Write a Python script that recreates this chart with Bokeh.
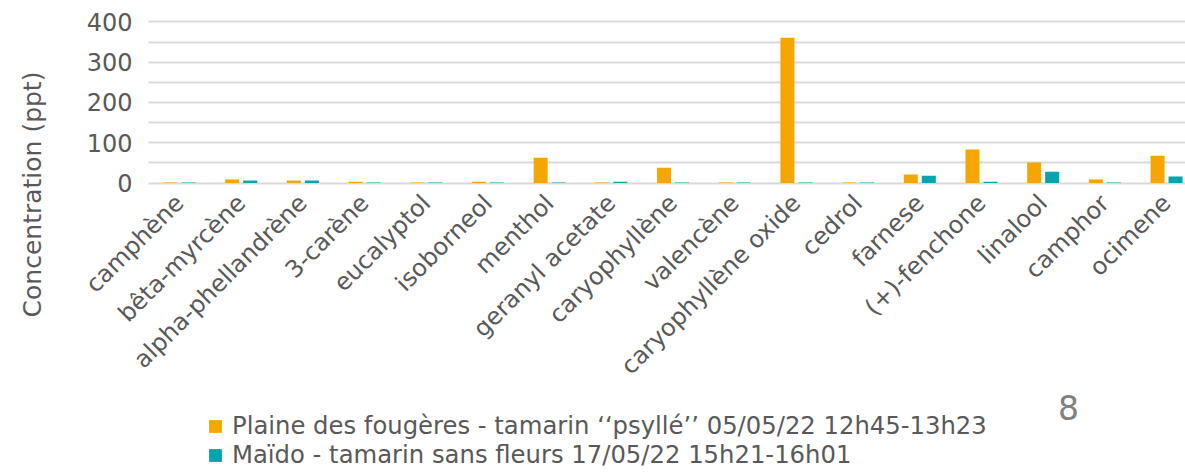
import math
from bokeh.plotting import figure
from bokeh.models import (ColumnDataSource, Range1d, FixedTicker, Legend, LegendItem, Label, Grid)
from bokeh.transform import dodge
from bokeh.embed import file_html
from bokeh.resources import INLINE

categories = ["camphène", "bêta-myrcène", "alpha-phellandrène", "3-carène", "eucalyptol",
              "isoborneol", "menthol", "geranyl acetate", "caryophyllène", "valencène",
              "caryophyllène oxide", "cedrol", "farnese", "(+)-fenchone", "linalool",
              "camphor", "ocimene"]
plaine = [1, 9, 6, 3, 1, 3, 63, 1, 38, 1, 361, 1, 21, 83, 51, 9, 68]
maido = [1, 6, 6, 1, 1, 1, 1, 3, 1, 1, 1, 1, 18, 3, 28, 1, 16]
series_names = ["Plaine des fougères - tamarin ‘‘psyllé’’ 05/05/22 12h45-13h23",
                "Maïdo - tamarin sans fleurs 17/05/22 15h21-16h01"]
y_ticks = [0, 100, 200, 300, 400]
y_minor = [50, 150, 250, 350]

FONT = "DejaVu Sans"
TXT = "#595959"
GRID = "#D9D9D9"
ORANGE = "#F5A600"
TEAL = "#00A5AD"

W, H = 1185, 473
# The plot frame covers the whole canvas; axes sit at fixed data locations inside it.
X0, X1 = -2.9016, 16.307      # data x at canvas left / right edge
Y0, Y1 = -721.7, 453.4        # data y at canvas bottom / top edge
X_LEFT = -0.502               # left edge of the bar area

src = ColumnDataSource(dict(x=list(range(len(categories))), plaine=plaine, maido=maido))

p = figure(width=W, height=H, output_backend="svg", toolbar_location=None,
           x_range=Range1d(X0, X1), y_range=Range1d(Y0, Y1),
           min_border=0, min_border_left=0, min_border_right=0,
           min_border_top=0, min_border_bottom=0)
p.outline_line_color = None

r1 = p.vbar(x=dodge("x", -0.146, range=p.x_range), top="plaine", width=0.227, bottom=0,
            source=src, fill_color=ORANGE, line_color=None)
r2 = p.vbar(x=dodge("x", 0.146, range=p.x_range), top="maido", width=0.227, bottom=0,
            source=src, fill_color=TEAL, line_color=None)

# x axis at y = 0
xa = p.xaxis[0]
xa.fixed_location = 0
xa.ticker = FixedTicker(ticks=list(range(len(categories))))
xa.major_label_overrides = {i: c for i, c in enumerate(categories)}
xa.major_label_orientation = math.pi / 4
xa.major_label_text_font = FONT
xa.major_label_text_font_size = "24px"
xa.major_label_text_color = TXT
xa.major_label_standoff = 10
xa.axis_line_color = None
xa.major_tick_line_color = None
xa.minor_tick_line_color = None

# y axis at left edge of bar area
ya = p.yaxis[0]
ya.fixed_location = X_LEFT
ya.ticker = FixedTicker(ticks=y_ticks, minor_ticks=y_minor)
ya.major_label_text_font = FONT
ya.major_label_text_font_size = "24px"
ya.major_label_text_color = TXT
ya.major_label_standoff = 10
ya.axis_line_color = None
ya.major_tick_line_color = None
ya.minor_tick_line_color = None

p.xgrid.grid_line_color = None
yg = p.ygrid[0]
use_cross = "cross_bounds" in Grid.properties()
if use_cross:
    yg.cross_bounds = (X_LEFT, X1)
    yg.grid_line_color = GRID
    yg.grid_line_width = 2
    yg.minor_grid_line_color = GRID
    yg.minor_grid_line_width = 2
else:
    yg.grid_line_color = None
    span_px = W - 148
    ya.level = "underlay"
    ya.major_tick_line_color = GRID
    ya.major_tick_line_width = 2
    ya.major_tick_in = span_px
    ya.major_tick_out = 0
    ya.minor_tick_line_color = GRID
    ya.minor_tick_line_width = 2
    ya.minor_tick_in = span_px
    ya.minor_tick_out = 0

# y axis title
p.add_layout(Label(x=32, y=H - 194, x_units="screen", y_units="screen",
                   text="Concentration (ppt)", angle=math.pi / 2,
                   text_align="center", text_baseline="middle",
                   text_font=FONT, text_font_size="25px", text_color=TXT))

# page number
p.add_layout(Label(x=1068, y=H - 407, x_units="screen", y_units="screen", text="8",
                   text_align="center", text_baseline="middle",
                   text_font=FONT, text_font_size="33px", text_color="#808080"))

legend = Legend(items=[LegendItem(label=series_names[0], renderers=[r1]),
                       LegendItem(label=series_names[1], renderers=[r2])],
                location=(207, 4), orientation="vertical",
                glyph_width=16, glyph_height=16, label_standoff=9,
                label_text_font=FONT, label_text_font_size="24.3px", label_text_color=TXT,
                padding=0, margin=0, spacing=0, label_height=28,
                border_line_color=None, background_fill_alpha=0)
p.add_layout(legend, "center")

open("out.html", "w").write(file_html(p, INLINE))
